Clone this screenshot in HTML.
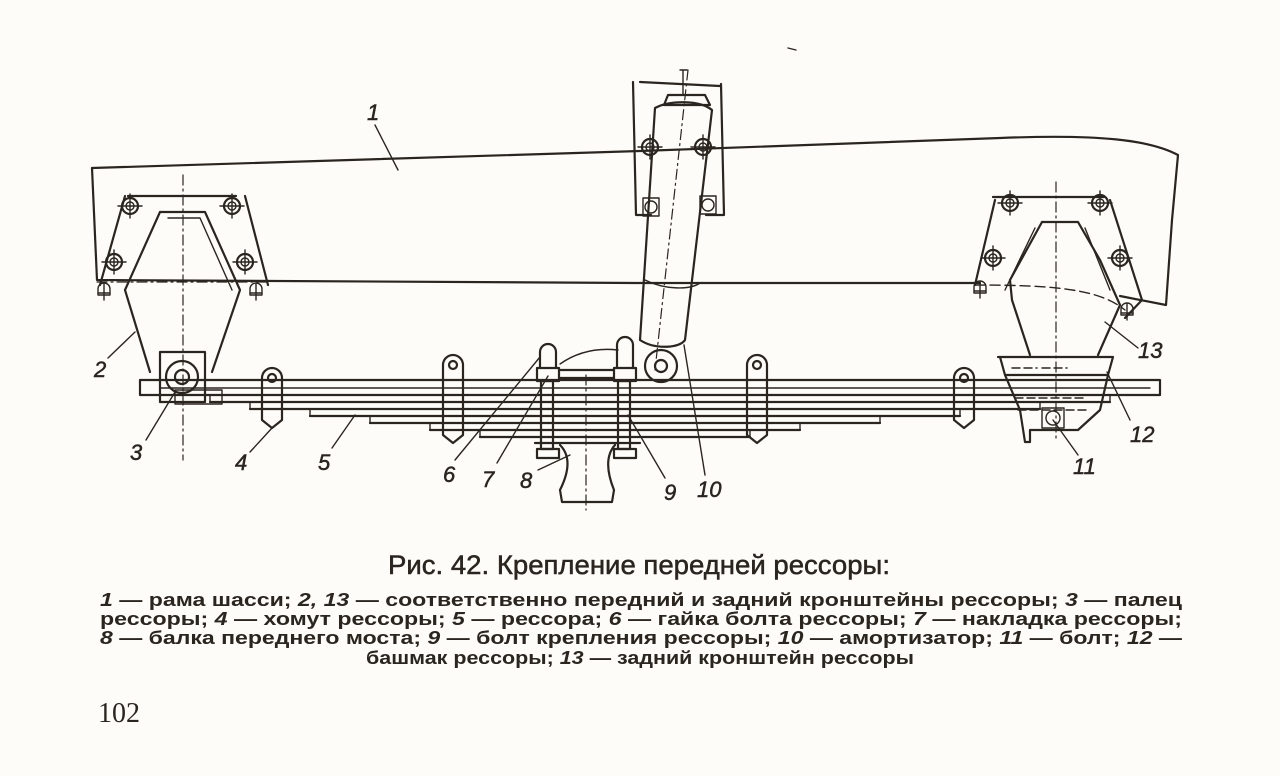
<!DOCTYPE html>
<html><head><meta charset="utf-8"><style>
html,body{margin:0;padding:0;background:#fdfcf8;}
svg{display:block}
.l{fill:none;stroke:#2b2520;stroke-width:2.2;stroke-linejoin:round;stroke-linecap:round}
.t{stroke-width:1.4}
.d{stroke-dasharray:10 4 2 4;stroke-width:1.2}
.n{font-family:"Liberation Sans Narrow","Liberation Sans",sans-serif;font-style:italic;font-size:22px;fill:#2b2520;stroke:#2b2520;stroke-width:0.5}
.c{font-family:"Liberation Sans Narrow","Liberation Sans","DejaVu Sans",sans-serif;fill:#2b2520}
</style></head><body>
<svg width="1280" height="776" viewBox="0 0 1280 776" xmlns="http://www.w3.org/2000/svg">
<defs>
<pattern id="h" width="7" height="7" patternUnits="userSpaceOnUse" patternTransform="rotate(45)"><line x1="0" y1="0" x2="0" y2="7" stroke="#2b2520" stroke-width="1.5"/></pattern>
<g id="bolt"><circle r="8" class="l"/><circle r="4" class="l t"/><line x1="-12" y1="0" x2="12" y2="0" class="l t"/><line x1="0" y1="-12" x2="0" y2="12" class="l t"/></g>
<g id="sb"><path d="M-6,-5 a6,6 0 0 1 12,0 v6 h-12z" class="l t"/><line x1="-6" y1="-1" x2="6" y2="-1" class="l t"/><line x1="0" y1="-10" x2="0" y2="6" class="l t"/></g>
</defs>
<!-- frame -->
<path class="l" d="M92,168 L640,151 L1000,138 C1100,134 1150,140 1178,155 L1172,220 L1166,305 L1120,296"/>
<path class="l" d="M92,168 L97,280 L640,283 L980,283"/>
<path class="l t" d="M975,285 C1060,285 1100,290 1125,310" stroke-dasharray="10 5"/>
<!-- left bracket 2 -->
<path class="l" d="M128,196 L236,196 M125,196 L100,285 M245,196 L268,285"/>
<path class="l" d="M160,212 L205,212 L240,290 L212,372 M160,212 L125,290 L150,372"/>
<path class="l t" d="M168,218 L200,218 L232,290" />
<use href="#bolt" x="130" y="206"/><use href="#bolt" x="232" y="206"/>
<use href="#bolt" x="114" y="262"/><use href="#bolt" x="245" y="262"/>
<use href="#sb" x="104" y="294"/><use href="#sb" x="256" y="294"/>
<line class="l d" x1="183" y1="175" x2="183" y2="460"/>
<line class="l d" x1="97" y1="282" x2="268" y2="282"/>
<!-- pin 3 -->
<rect class="l" x="160" y="352" width="45" height="50"/>
<circle class="l" cx="182" cy="377" r="16"/><circle class="l" cx="182" cy="377" r="7"/>
<rect class="l t" x="175" y="390" width="47" height="14"/>
<!-- spring leaves -->
<rect class="l" x="140" y="380" width="1020" height="15"/>
<path class="l t" d="M160,388 L1150,388"/>
<path class="l" d="M210,402 L1110,402 M250,409 L1040,409 M310,416 L960,416 M370,423 L880,423 M430,430 L800,430 M480,437 L750,437"/>
<path class="l t" d="M210,395 V402 M250,402 V409 M310,409 V416 M370,416 V423 M430,423 V430 M480,430 V437 M1110,395 V402 M1040,402 V409 M960,409 V416 M880,416 V423 M800,423 V430 M750,430 V437"/>
<!-- clamps 4 -->
<g class="l">
<path d="M262,378 a10,10 0 0 1 20,0 V420 l-10,8 l-10,-8z"/><circle cx="272" cy="378" r="4"/>
<path d="M443,365 a10,10 0 0 1 20,0 V435 l-10,8 l-10,-8z"/><circle cx="453" cy="365" r="4"/>
<path d="M747,365 a10,10 0 0 1 20,0 V435 l-10,8 l-10,-8z"/><circle cx="757" cy="365" r="4"/>
<path d="M954,378 a10,10 0 0 1 20,0 V420 l-10,8 l-10,-8z"/><circle cx="964" cy="378" r="4"/>
</g>
<!-- U bolts 6/9, pad 7 -->
<g class="l">
<rect x="537" y="368" width="22" height="13"/><path d="M540,368 V352 a8,8 0 0 1 16,0 V368"/>
<rect x="614" y="368" width="22" height="13"/><path d="M617,368 V345 a8,8 0 0 1 16,0 V368"/>
<rect x="541" y="381" width="12" height="68"/><rect x="618" y="381" width="12" height="68"/>
<rect x="537" y="449" width="22" height="9"/><rect x="614" y="449" width="22" height="9"/>
<path d="M559,370 H614 M559,378 H614"/>
<path class="t" d="M560,364 C580,350 600,348 618,350"/>
</g>
<!-- axle 8 -->
<path class="l" d="M535,443 H640 M560,445 C570,455 570,470 560,490 L562,502 H612 L614,490 C606,470 606,455 615,445" fill="url(#h)"/>
<line class="l d" x1="586" y1="375" x2="586" y2="510"/>
<!-- shock absorber 10 -->
<path class="l" d="M633,82 L636,215 H651 M721,84 L724,215 H706 M640,82 L720,86"/>
<path class="l" d="M668,95 L705,95 L710,105 L664,105z"/><path class="l t" d="M683,95 V70 M680,70 h7"/>
<path class="l" d="M655,108 C670,100 700,100 712,110 L685,340 C680,348 655,350 640,340 Z"/>
<path class="l t" d="M645,280 C665,290 690,290 700,283"/>
<line class="l d" x1="688" y1="70" x2="655" y2="370"/>
<use href="#bolt" x="650" y="147"/><use href="#bolt" x="703" y="147"/>
<rect class="l t" x="643" y="198" width="16" height="18"/><circle class="l t" cx="651" cy="207" r="6"/>
<rect class="l t" x="700" y="196" width="16" height="18"/><circle class="l t" cx="708" cy="205" r="6"/>
<circle class="l" cx="661" cy="366" r="16"/><circle class="l" cx="661" cy="366" r="6"/>
<!-- right bracket 13 -->
<path class="l" d="M993,197 H1104 M995,200 L975,285 M1110,200 L1142,300 L1125,318"/>
<path class="l" d="M1042,222 H1078 L1100,260 L1120,305 L1098,355 M1042,222 L1010,280 L1012,300 L1030,355"/>
<path class="l t" d="M1035,228 L1005,290 M1085,228 L1110,290"/>
<use href="#bolt" x="1010" y="203"/><use href="#bolt" x="1100" y="203"/>
<use href="#bolt" x="993" y="258"/><use href="#bolt" x="1120" y="258"/>
<use href="#sb" x="980" y="292"/><use href="#sb" x="1127" y="314"/>
<line class="l d" x1="1056" y1="182" x2="1056" y2="440"/>
<!-- shoe 12 -->
<path class="l" d="M998,357 H1113 L1108,375 M1000,357 L1005,375 H1108 L1100,410 L1078,430 H1045 L1030,430 V442 L1025,442 L1020,410 L1005,375"/>
<path class="l t" d="M1012,368 h25 M1042,368 h25 M1015,398 h70 M1018,410 h70" stroke-dasharray="8 4"/>
<rect class="l t" x="1042" y="408" width="22" height="20"/><circle class="l t" cx="1053" cy="418" r="7"/>
<!-- leader lines -->
<g class="l t">
<path d="M375,125 L398,170"/>
<path d="M108,358 L135,332"/>
<path d="M146,440 L175,392"/>
<path d="M250,452 L272,428"/>
<path d="M332,448 L355,415"/>
<path d="M455,460 L540,357"/>
<path d="M497,463 L548,376"/>
<path d="M538,470 L570,455"/>
<path d="M665,478 L628,415"/>
<path d="M705,475 L684,345"/>
<path d="M1078,455 L1053,420"/>
<path d="M1130,420 L1107,372"/>
<path d="M1138,348 L1105,322"/>
</g>
<!-- numbers -->
<text class="n" x="367" y="120">1</text>
<text class="n" x="94" y="377">2</text>
<text class="n" x="130" y="460">3</text>
<text class="n" x="235" y="470">4</text>
<text class="n" x="318" y="470">5</text>
<text class="n" x="443" y="482">6</text>
<text class="n" x="482" y="487">7</text>
<text class="n" x="520" y="488">8</text>
<text class="n" x="664" y="500">9</text>
<text class="n" x="697" y="497">10</text>
<text class="n" x="1073" y="474">11</text>
<text class="n" x="1130" y="442">12</text>
<text class="n" x="1138" y="358">13</text>
<!-- caption -->
<text class="c" x="388" y="574" font-size="27" stroke="#2b2520" stroke-width="0.5" textLength="502" lengthAdjust="spacingAndGlyphs">Рис. 42. Крепление передней рессоры:</text>
<g font-weight="bold">
<text class="c" x="100" y="606" font-size="18" textLength="1082" lengthAdjust="spacingAndGlyphs"><tspan font-style="italic">1</tspan> — рама шасси; <tspan font-style="italic">2, 13</tspan> — соответственно передний и задний кронштейны рессоры; <tspan font-style="italic">3</tspan> — палец</text>
<text class="c" x="100" y="625" font-size="18" textLength="1082" lengthAdjust="spacingAndGlyphs">рессоры; <tspan font-style="italic">4</tspan> — хомут рессоры; <tspan font-style="italic">5</tspan> — рессора; <tspan font-style="italic">6</tspan> — гайка болта рессоры; <tspan font-style="italic">7</tspan> — накладка рессоры;</text>
<text class="c" x="100" y="644" font-size="18" textLength="1082" lengthAdjust="spacingAndGlyphs"><tspan font-style="italic">8</tspan> — балка переднего моста; <tspan font-style="italic">9</tspan> — болт крепления рессоры; <tspan font-style="italic">10</tspan> — амортизатор; <tspan font-style="italic">11</tspan> — болт; <tspan font-style="italic">12</tspan> —</text>
<text class="c" x="366" y="664" font-size="18" textLength="548" lengthAdjust="spacingAndGlyphs">башмак рессоры; <tspan font-style="italic">13</tspan> — задний кронштейн рессоры</text>
</g>
<text x="98" y="722" font-family="Liberation Serif,serif" font-size="28" fill="#2b2520">102</text>
<path d="M788,48 l8,2" class="l t"/>
</svg>
</body></html>
